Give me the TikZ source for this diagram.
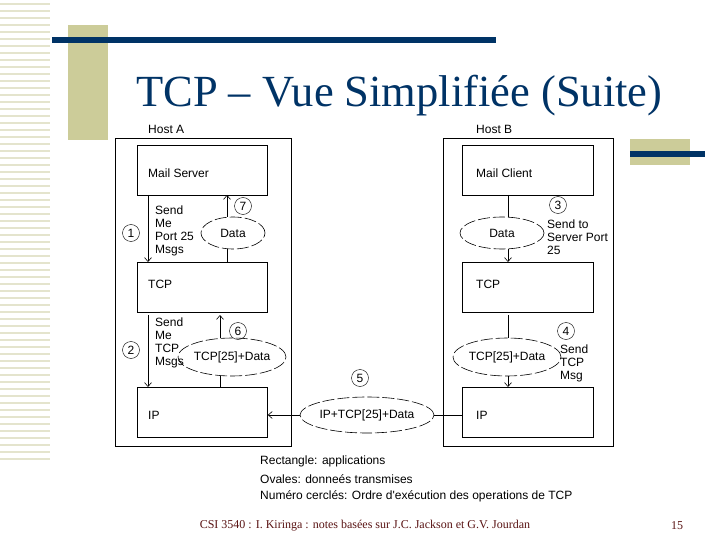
\documentclass[tikz,border=0pt]{standalone}
\usepackage{fontspec}
\setmainfont{Liberation Serif}
\newfontfamily\sansf{Liberation Sans}
\usetikzlibrary{shapes.geometric,arrows.meta}
\definecolor{navy}{RGB}{0,51,102}
\definecolor{beige}{RGB}{204,204,153}
\definecolor{lbeige}{RGB}{228,228,205}
\definecolor{footred}{RGB}{90,20,20}
\begin{document}
\begin{tikzpicture}[x=1pt,y=-1pt,
  box/.style={draw,line width=0.8pt,anchor=north west,inner sep=0pt},
  lay/.style={box,minimum width=130pt,minimum height=50pt},
  lbl/.style={font=\sansf\fontsize{12}{13}\selectfont,inner sep=0pt},
  ov/.style={draw,ellipse,dash pattern=on 12pt off 3pt,line width=0.6pt,inner sep=0pt,font=\sansf\fontsize{12}{13}\selectfont},
  num/.style={draw,circle,minimum size=17pt,inner sep=0pt,font=\sansf\fontsize{12}{13}\selectfont},
  arr/.style={-{Straight Barb[length=4pt,width=7pt]},line width=0.6pt},
  ln/.style={line width=0.6pt}]
\useasboundingbox (0,0) rectangle (720,540);
\fill[white] (0,0) rectangle (720,540);
% decorations
\foreach \y in {3,10,17,24,31,38,45,52,59,66,73,80,87,94,101,108,115,122,129,136,143,150,157,164,171,178,185,192,199,206,213,220,227,234,241,248,255,262,269,276,283,290,297,304,311,318,325,332,339,346,353,360,367,374,381,388,395,402,409,416,423,430,437,444,451,458}
  \fill[lbeige] (0,\y) rectangle (50,\y+2);
\fill[beige] (68,25) rectangle (108,140);
\fill[navy] (52,37) rectangle (496,43);
\fill[beige] (630,139) rectangle (690,165);
\fill[navy] (630,151) rectangle (705,157);
\node[text=navy,font=\fontsize{44.5}{47}\selectfont,anchor=base west,inner sep=0] (title) at (136,107) {TCP -- Vue Simplifiée (Suite)};
% Host A
\node[box,minimum width=176pt,minimum height=308pt] (hA) at (115,138) {};
\node[lbl,anchor=south west] (hAl) at (148,134) {Host A};
\node[lay] (ms) at (137,145) {};
\node[lbl,anchor=west] at (148,173) {Mail Server};
\node[lay] (tA) at (137,262) {};
\node[lbl,anchor=west] at (148,284) {TCP};
\node[lay] (ipA) at (137,387) {};
\node[lbl,anchor=west] at (148,415) {IP};
\draw[arr] (148,195) -- (148,262);
\draw[arr] (148,315) -- (148,387);
\node[lbl,anchor=north west,align=left] (t1) at (155,206) {Send\\Me\\Port 25\\Msgs};
\node[lbl,anchor=north west,align=left] (t2) at (155,318) {Send\\Me\\TCP\\Msgs};
\node[num] (n1) at (131,233) {1};
\node[num] (n2) at (131,350) {2};
\node[ov,minimum width=64pt,minimum height=32pt] (dA) at (233,233) {Data};
\draw[ln] (227,262) -- (227,249);
\draw[arr] (227,217) -- (227,195);
\node[num] (n7) at (243,206) {7};
\node[ov,minimum width=92pt,minimum height=38pt] (eA) at (232,357) {TCP[25]+Data};
\draw[ln] (220,387) -- (220,376);
\draw[arr] (220,338) -- (220,315);
\node[num] (n6) at (238,331) {6};
% Host B
\node[box,minimum width=170pt,minimum height=308pt] (hB) at (443,138) {};
\node[lbl,anchor=south west] (hBl) at (476,134) {Host B};
\node[lay,minimum width=131pt] (mc) at (462,145) {};
\node[lbl,anchor=west] at (476,173) {Mail Client};
\node[lay,minimum width=131pt] (tB) at (462,262) {};
\node[lbl,anchor=west] at (476,284) {TCP};
\node[lay,minimum width=131pt] (ipB) at (462,387) {};
\node[lbl,anchor=west] at (476,415) {IP};
\node[ov,minimum width=84pt,minimum height=32pt] (dB) at (502,233) {Data};
\draw[ln] (508,195) -- (508,217);
\draw[arr] (508,249) -- (508,262);
\node[num] (n3) at (558,205) {3};
\node[lbl,anchor=north west,align=left] (t3) at (547,220) {Send to\\Server Port\\25};
\node[ov,minimum width=92pt,minimum height=38pt] (eB) at (507,357) {TCP[25]+Data};
\draw[ln] (508,315) -- (508,338);
\draw[arr] (508,376) -- (508,387);
\node[num] (n4) at (566,331) {4};
\node[lbl,anchor=north west,align=left] (t4) at (560,345) {Send\\TCP\\Msg};
% network
\node[ov,minimum width=124pt,minimum height=36pt] (net) at (367,415) {IP+TCP[25]+Data};
\node[num] (n5) at (360,378) {5};
\draw[arr] (net.west) -- (ipA.east |- net.west);
\draw[ln] (net.east) -- (ipB.west |- net.east);
% legend
\node[lbl,anchor=west,align=left] (leg) at (260,461) {Rectangle: applications};
\node[lbl,anchor=west] at (260,479) {Ovales: donneés transmises};
\node[lbl,anchor=west] at (260,496) {Numéro cerclés: Ordre d'exécution des operations de TCP};
% footer
\node[text=footred,font=\fontsize{12}{13}\selectfont] (foot) at (365,526) {CSI 3540 : I. Kiringa : notes basées sur J.C. Jackson et G.V. Jourdan};
\node[text=footred,font=\fontsize{12}{13}\selectfont] (pg) at (677,526) {15};
\end{tikzpicture}
\end{document}
